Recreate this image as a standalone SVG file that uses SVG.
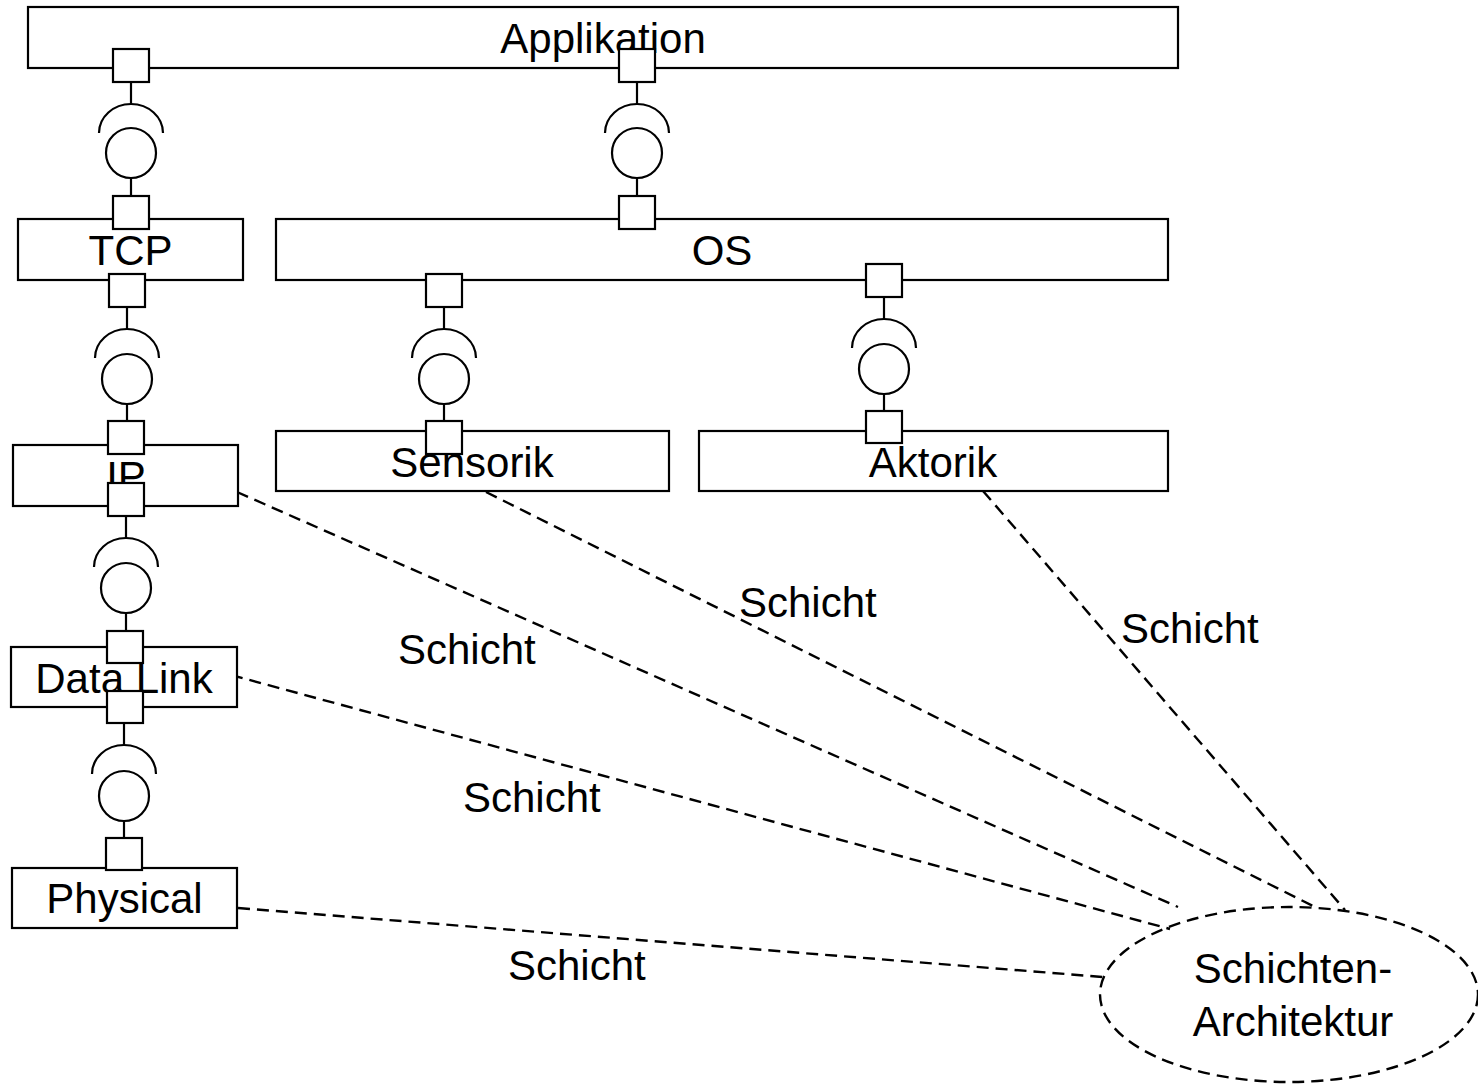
<svg xmlns="http://www.w3.org/2000/svg" width="1478" height="1084" viewBox="0 0 1478 1084">
  <style>
    .box { fill: #fff; stroke: #000; stroke-width: 2.2; }
    .port { fill: #fff; stroke: #000; stroke-width: 2.2; }
    .lbl { font-family: "Liberation Sans", Arial, sans-serif; font-size: 42px; fill: #000; }
    .mid { text-anchor: middle; }
    .wire { fill: none; stroke: #000; stroke-width: 2.2; }
    .dash { fill: none; stroke: #000; stroke-width: 2.4; stroke-dasharray: 12 7; }
  </style>
  <rect width="1478" height="1084" fill="#fff"/>

  <!-- layer dependencies and the Schicht links -->
  <g id="connectors">
    <!-- provided/required interfaces between the layers -->
    <g id="iface-app-tcp">
      <line class="wire" x1="131" y1="82" x2="131" y2="104"/>
      <path class="wire" d="M 99 133 A 32 29 0 0 1 163 133"/>
      <circle class="wire" cx="131" cy="153" r="25"/>
      <line class="wire" x1="131" y1="178" x2="131" y2="196"/>
    </g>
    <g id="iface-app-os">
      <line class="wire" x1="637" y1="82" x2="637" y2="104"/>
      <path class="wire" d="M 605 133 A 32 29 0 0 1 669 133"/>
      <circle class="wire" cx="637" cy="153" r="25"/>
      <line class="wire" x1="637" y1="178" x2="637" y2="196"/>
    </g>
    <g id="iface-tcp-ip">
      <line class="wire" x1="127" y1="307" x2="127" y2="329"/>
      <path class="wire" d="M 95 358 A 32 29 0 0 1 159 358"/>
      <circle class="wire" cx="127" cy="379" r="25"/>
      <line class="wire" x1="127" y1="404" x2="127" y2="421"/>
    </g>
    <g id="iface-ip-dl">
      <line class="wire" x1="126" y1="516" x2="126" y2="538"/>
      <path class="wire" d="M 94 567 A 32 29 0 0 1 158 567"/>
      <circle class="wire" cx="126" cy="588" r="25"/>
      <line class="wire" x1="126" y1="613" x2="126" y2="631"/>
    </g>
    <g id="iface-dl-phys">
      <line class="wire" x1="124" y1="723" x2="124" y2="745"/>
      <path class="wire" d="M 92 774 A 32 29 0 0 1 156 774"/>
      <circle class="wire" cx="124" cy="796" r="25"/>
      <line class="wire" x1="124" y1="821" x2="124" y2="838"/>
    </g>
    <g id="iface-os-sensorik">
      <line class="wire" x1="444" y1="307" x2="444" y2="329"/>
      <path class="wire" d="M 412 358 A 32 29 0 0 1 476 358"/>
      <circle class="wire" cx="444" cy="379" r="25"/>
      <line class="wire" x1="444" y1="404" x2="444" y2="421"/>
    </g>
    <g id="iface-os-aktorik">
      <line class="wire" x1="884" y1="297" x2="884" y2="319"/>
      <path class="wire" d="M 852 348 A 32 29 0 0 1 916 348"/>
      <circle class="wire" cx="884" cy="369" r="25"/>
      <line class="wire" x1="884" y1="394" x2="884" y2="411"/>
    </g>

    <!-- dashed Schicht links to the architecture collaboration -->
    <line class="dash" x1="237" y1="492" x2="1178" y2="907"/>
    <line class="dash" x1="486" y1="492" x2="1317" y2="908"/>
    <line class="dash" x1="983" y1="491" x2="1345" y2="910"/>
    <line class="dash" x1="231" y1="675" x2="1170" y2="929"/>
    <line class="dash" x1="238" y1="908" x2="1103" y2="977"/>

    <text class="lbl" x="398" y="664">Schicht</text>
    <text class="lbl" x="739" y="617">Schicht</text>
    <text class="lbl" x="1121" y="643">Schicht</text>
    <text class="lbl" x="463" y="812">Schicht</text>
    <text class="lbl" x="508" y="980">Schicht</text>
  </g>

  <g id="applikation">
    <rect class="box" x="28" y="7" width="1150" height="61"/>
    <text class="lbl mid" x="603" y="53">Applikation</text>
    <rect class="port" x="113" y="49" width="36" height="33"/>
    <rect class="port" x="619" y="49" width="36" height="33"/>
  </g>

  <g id="tcp">
    <rect class="box" x="18" y="219" width="225" height="61"/>
    <text class="lbl mid" x="130.5" y="265">TCP</text>
    <rect class="port" x="113" y="196" width="36" height="33"/>
    <rect class="port" x="109" y="274" width="36" height="33"/>
  </g>

  <g id="os">
    <rect class="box" x="276" y="219" width="892" height="61"/>
    <text class="lbl mid" x="722" y="265">OS</text>
    <rect class="port" x="619" y="196" width="36" height="33"/>
    <rect class="port" x="426" y="274" width="36" height="33"/>
    <rect class="port" x="866" y="264" width="36" height="33"/>
  </g>

  <g id="ip">
    <rect class="box" x="13" y="445" width="225" height="61"/>
    <text class="lbl mid" x="126" y="491">IP</text>
    <rect class="port" x="108" y="421" width="36" height="33"/>
    <rect class="port" x="108" y="483" width="36" height="33"/>
  </g>

  <g id="sensorik">
    <rect class="box" x="276" y="431" width="393" height="60"/>
    <text class="lbl mid" x="472" y="477">Sensorik</text>
    <rect class="port" x="426" y="421" width="36" height="33"/>
  </g>

  <g id="aktorik">
    <rect class="box" x="699" y="431" width="469" height="60"/>
    <text class="lbl mid" x="933" y="477">Aktorik</text>
    <rect class="port" x="866" y="411" width="36" height="32"/>
  </g>

  <g id="data-link">
    <rect class="box" x="11" y="647" width="226" height="60"/>
    <text class="lbl mid" x="124" y="693">Data Link</text>
    <rect class="port" x="107" y="631" width="36" height="32"/>
    <rect class="port" x="107" y="691" width="36" height="32"/>
  </g>

  <g id="physical">
    <rect class="box" x="12" y="868" width="225" height="60"/>
    <text class="lbl mid" x="124.5" y="913">Physical</text>
    <rect class="port" x="106" y="838" width="36" height="32"/>
  </g>

  <g id="schichten-architektur">
    <ellipse class="dash" cx="1289" cy="994.5" rx="189" ry="87.5"/>
    <text class="lbl mid" x="1293" y="983">Schichten-</text>
    <text class="lbl mid" x="1293" y="1036">Architektur</text>
  </g>
</svg>
